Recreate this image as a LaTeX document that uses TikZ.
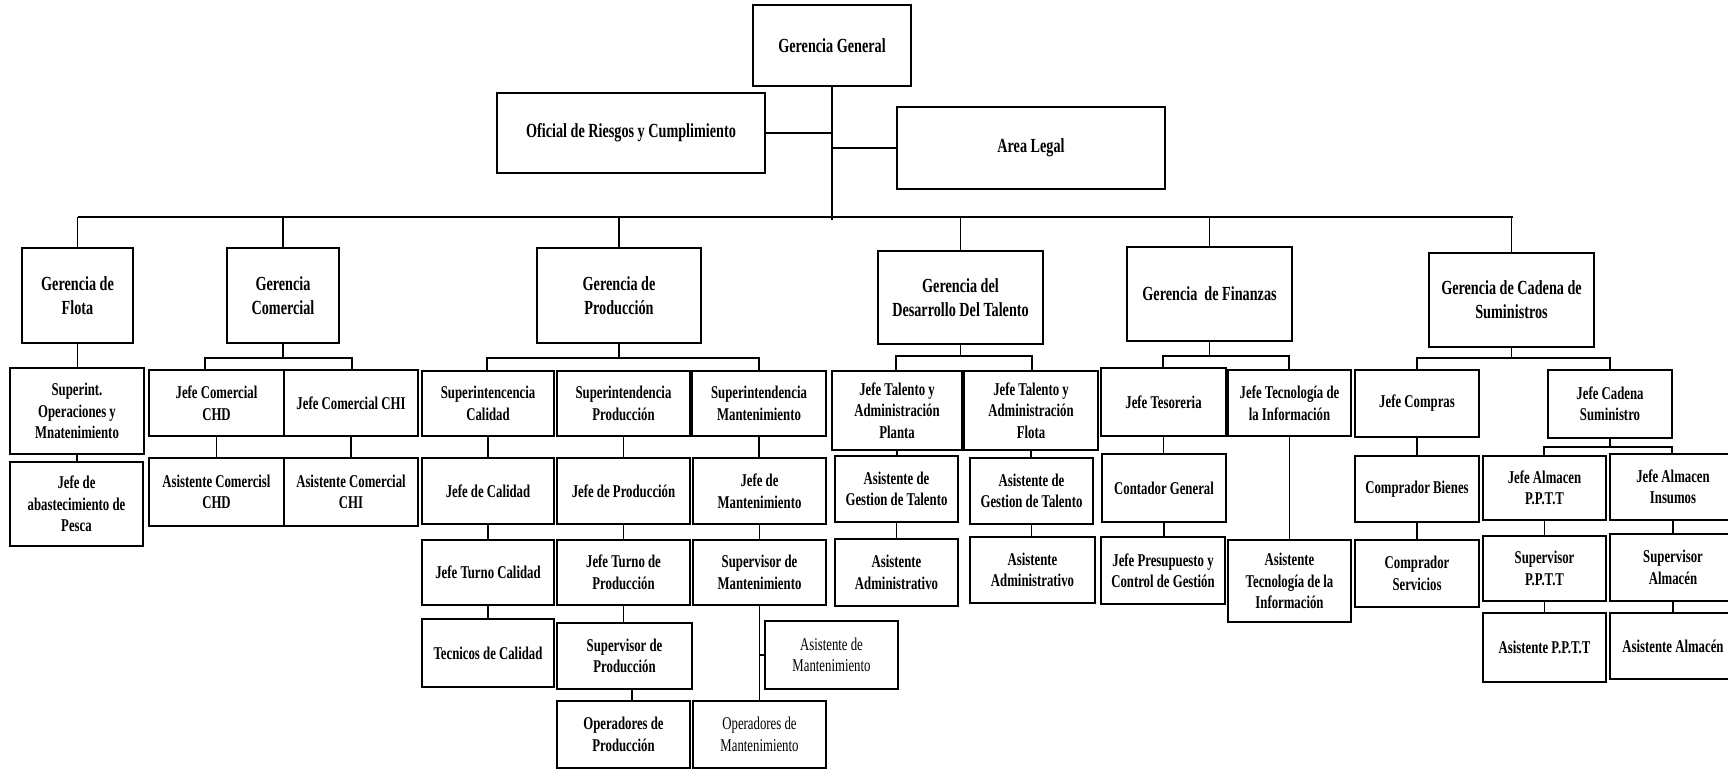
\documentclass[tikz,border=0pt]{standalone}
\usepackage{fontspec}
\setmainfont{Liberation Serif}[FakeStretch=0.71]
\tikzset{
  box/.style={draw, line width=1.5pt, inner sep=0pt, align=center,
    font=\fontsize{18}{21.5}\selectfont\bfseries},
  bigbox/.style={font=\fontsize{20}{24}\selectfont\bfseries},
  light/.style={font=\fontsize{18}{21.5}\selectfont\mdseries},
  link/.style={line width=1.3pt},
}
% \orgbox[style]{name}{x1}{y1}{x2}{y2}{text}
\newcommand{\orgbox}[7][]{%
  \node[box,#1,minimum width={#5pt-#3pt},minimum height={#6pt-#4pt}]
    (#2) at ({(#3+#5)/2},{(#4+#6)/2}) {#7};}
\newcommand{\vlink}[2]{\draw[link] (#1.south) -- (#1.south |- #2.north);}
\begin{document}
\begin{tikzpicture}[x=1pt,y=-1pt]
\useasboundingbox (0,0) rectangle (1728,769);
% top
\orgbox[bigbox]{gg}{753}{5}{911}{86}{Gerencia General}
\orgbox[bigbox]{ofi}{497}{93}{765}{173}{Oficial de Riesgos y Cumplimiento}
\orgbox[bigbox]{legal}{897}{107}{1165}{189}{Area Legal}
% level 1
\orgbox[bigbox]{flota}{22}{248}{133}{343}{Gerencia de\\Flota}
\orgbox[bigbox]{comercial}{227}{248}{339}{343}{Gerencia\\Comercial}
\orgbox[bigbox]{prod}{537}{248}{701}{343}{Gerencia de\\Producción}
\orgbox[bigbox]{talento}{878}{251}{1043}{344}{Gerencia del\\Desarrollo Del Talento}
\orgbox[bigbox]{finanzas}{1127}{247}{1292}{341}{Gerencia\ \ de Finanzas}
\orgbox[bigbox]{cadena}{1429}{253}{1594}{347}{Gerencia de Cadena de\\Suministros}
% flota
\orgbox{sup}{10}{368}{144}{454}{Superint.\\Operaciones y\\Mnatenimiento}
\orgbox{abast}{10}{462}{143}{546}{Jefe de\\abastecimiento de\\Pesca}
% comercial
\orgbox{jcchd}{149}{370}{284}{436}{Jefe Comercial\\CHD}
\orgbox{jcchi}{284}{370}{418}{436}{Jefe Comercial CHI}
\orgbox{acchd}{149}{458}{284}{526}{Asistente Comercisl\\CHD}
\orgbox{acchi}{284}{458}{418}{526}{Asistente Comercial\\CHI}
% produccion
\orgbox{scal}{422}{371}{554}{436}{Superintencencia\\Calidad}
\orgbox{sprod}{557}{371}{690}{436}{Superintendencia\\Producción}
\orgbox{smant}{692}{371}{826}{436}{Superintendencia\\Mantenimiento}
\orgbox{jcal}{422}{458}{554}{524}{Jefe de Calidad}
\orgbox{jprod}{557}{458}{690}{524}{Jefe de Producción}
\orgbox{jmant}{693}{458}{826}{524}{Jefe de\\Mantenimiento}
\orgbox{jtcal}{422}{540}{554}{605}{Jefe Turno Calidad}
\orgbox{jtprod}{557}{540}{690}{605}{Jefe Turno de\\Producción}
\orgbox{supmant}{693}{540}{826}{605}{Supervisor de\\Mantenimiento}
\orgbox{tcal}{422}{619}{554}{687}{Tecnicos de Calidad}
\orgbox{supprod}{557}{623}{692}{689}{Supervisor de\\Producción}
\orgbox[light]{asmant}{765}{621}{898}{689}{Asistente de\\Mantenimiento}
\orgbox{opprod}{557}{701}{690}{768}{Operadores de\\Producción}
\orgbox[light]{opmant}{693}{701}{826}{768}{Operadores de\\Mantenimiento}
% talento
\orgbox{jtp}{832}{371}{962}{450}{Jefe Talento y\\Administración\\Planta}
\orgbox{jtf}{964}{371}{1098}{450}{Jefe Talento y\\Administración\\Flota}
\orgbox{agp}{835}{456}{958}{522}{Asistente de\\Gestion de Talento}
\orgbox{agf}{970}{458}{1093}{524}{Asistente de\\Gestion de Talento}
\orgbox{aap}{835}{539}{958}{606}{Asistente\\Administrativo}
\orgbox{aaf}{970}{537}{1095}{603}{Asistente\\Administrativo}
% finanzas
\orgbox{jtes}{1101}{368}{1226}{436}{Jefe Tesoreria}
\orgbox{jti}{1228}{370}{1351}{436}{Jefe Tecnología de\\la Información}
\orgbox{cont}{1102}{454}{1226}{522}{Contador General}
\orgbox{jpres}{1101}{537}{1225}{604}{Jefe Presupuesto y\\Control de Gestión}
\orgbox{ati}{1228}{540}{1351}{622}{Asistente\\Tecnología de la\\Información}
% cadena
\orgbox{jcomp}{1355}{370}{1479}{437}{Jefe Compras}
\orgbox{jcad}{1548}{370}{1672}{438}{Jefe Cadena\\Suministro}
\orgbox{cbien}{1355}{456}{1479}{522}{Comprador Bienes}
\orgbox{cserv}{1355}{540}{1479}{607}{Comprador\\Servicios}
\orgbox{jappt}{1483}{456}{1606}{520}{Jefe Almacen\\P.P.T.T}
\orgbox{jains}{1610}{454}{1736}{520}{Jefe Almacen\\Insumos}
\orgbox{supppt}{1483}{536}{1606}{601}{Supervisor\\P.P.T.T}
\orgbox{supalm}{1610}{534}{1736}{601}{Supervisor\\Almacén}
\orgbox{asppt}{1483}{613}{1606}{682}{Asistente P.P.T.T}
\orgbox{asalm}{1610}{613}{1736}{679}{Asistente Almacén}
% ---- connectors
\coordinate (trunkend) at (832,220);
\coordinate (barL) at (78,217);
\draw[link] (gg.south) -- (gg.south |- trunkend);
\draw[link] (ofi.east) -- (ofi.east -| gg.south);
\draw[link] (legal.west) -- (legal.west -| gg.south);
\draw[link] (flota.north |- barL) -- (1513,217);
\foreach \n in {flota,comercial,prod,talento,finanzas,cadena}
  \draw[link] (\n.north) -- (\n.north |- barL);
% flota
\vlink{flota}{sup}
\vlink{sup}{abast}
% comercial
\coordinate (cbl) at (205,358); \coordinate (cbr) at (352,358);
\draw[link] (comercial.south) -- (comercial.south |- cbl);
\draw[link] (jcchd.north -| cbl) -- (cbl) -- (cbr) -- (jcchi.north -| cbr);
\vlink{jcchd}{acchd}
\vlink{jcchi}{acchi}
% produccion
\coordinate (pbl) at (487,358); \coordinate (pbr) at (759,358);
\draw[link] (prod.south) -- (prod.south |- pbl);
\draw[link] (scal.north -| pbl) -- (pbl) -- (pbr) -- (smant.north -| pbr);
\vlink{scal}{jcal}
\vlink{sprod}{jprod}
\vlink{smant}{jmant}
\vlink{jcal}{jtcal}
\vlink{jprod}{jtprod}
\vlink{jmant}{supmant}
\vlink{jtcal}{tcal}
\vlink{jtprod}{supprod}
\coordinate (spx) at (632,650);
\draw[link] (supprod.south -| spx) -- (opprod.north -| spx);
\draw[link] (supmant.south) -- (supmant.south |- opmant.north);
\draw[link] (asmant.west) -- (asmant.west -| supmant.south);
% talento
\coordinate (tbl) at (896,356); \coordinate (tbr) at (1032,356);
\draw[link] (talento.south) -- (talento.south |- tbl);
\draw[link] (jtp.north -| tbl) -- (tbl) -- (tbr) -- (jtf.north -| tbr);
\vlink{jtp}{agp}
\vlink{jtf}{agf}
\vlink{agp}{aap}
\vlink{agf}{aaf}
% finanzas
\coordinate (fbl) at (1163,356); \coordinate (fbr) at (1289,356);
\draw[link] (finanzas.south) -- (finanzas.south |- fbl);
\draw[link] (jtes.north -| fbl) -- (fbl) -- (fbr) -- (jti.north -| fbr);
\vlink{jtes}{cont}
\vlink{cont}{jpres}
\vlink{jti}{ati}
% cadena
\coordinate (kbl) at (1417,358); \coordinate (kbr) at (1610,358);
\draw[link] (cadena.south) -- (cadena.south |- kbl);
\draw[link] (jcomp.north -| kbl) -- (kbl) -- (kbr) -- (jcad.north -| kbr);
\vlink{jcomp}{cbien}
\vlink{cbien}{cserv}
\coordinate (sbl) at (1544,447); \coordinate (sbr) at (1672,447);
\draw[link] (jcad.south) -- (jcad.south |- sbl);
\draw[link] (jappt.north -| sbl) -- (sbl) -- (sbr) -- (jains.north -| sbr);
\vlink{jappt}{supppt}
\vlink{supppt}{asppt}
\vlink{jains}{supalm}
\vlink{supalm}{asalm}
\end{tikzpicture}
\end{document}
